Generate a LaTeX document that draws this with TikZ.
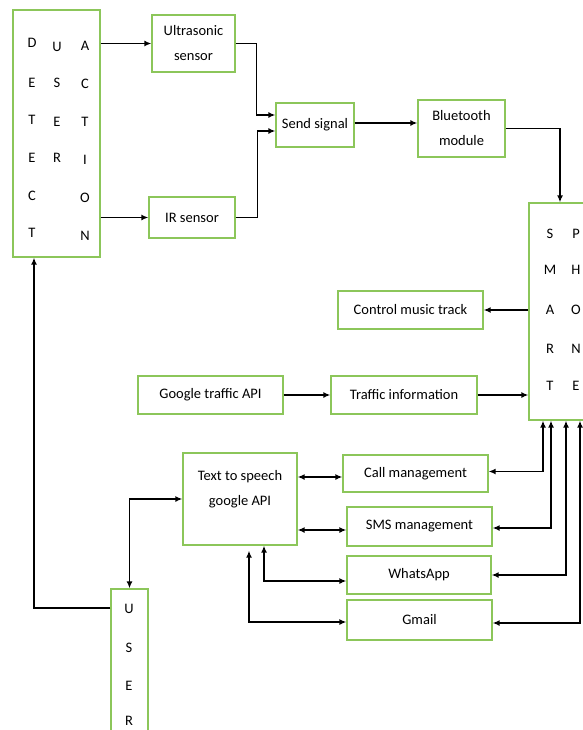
\documentclass[tikz,border=0pt]{standalone}
\usepackage{fontspec}
\setmainfont{Carlito}
\usetikzlibrary{arrows.meta,calc}
\definecolor{boxgreen}{RGB}{140,198,90}
\tikzset{
  box/.style={draw=boxgreen, line width=1.3pt, inner sep=0pt, align=center, font=\fontsize{14.5}{25}\selectfont},
  lbl/.style={inner sep=0pt, font=\fontsize{14.5}{17}\selectfont},
  arr/.style={line width=1.4pt, -{Latex[length=7pt,width=6pt]}},
  darr/.style={line width=1.4pt, {Latex[length=7pt,width=6pt]}-{Latex[length=7pt,width=6pt]}},
}
\begin{document}
\begin{tikzpicture}[x=1pt,y=-1pt]
\useasboundingbox (0,0) rectangle (582,730);
% boxes
\node[box, minimum width=87pt, minimum height=247pt] (detect) at (56.5,133.5) {};
\node[box, minimum width=83pt, minimum height=57pt] (ultra) at (193.5,43.5) {Ultrasonic\\sensor};
\node[box, minimum width=86pt, minimum height=41pt] (ir) at (192,217.5) {IR sensor};
\node[box, minimum width=78pt, minimum height=44pt] (send) at (315,125) {Send signal};
\node[box, minimum width=87pt, minimum height=57pt] (bt) at (461.5,128.5) {Bluetooth\\module};
\node[box, minimum width=71pt, minimum height=217pt] (phone) at (564.5,311.5) {};
\node[box, minimum width=145pt, minimum height=38pt] (music) at (410.5,310) {Control music track};
\node[box, minimum width=145pt, minimum height=38pt] (gapi) at (210.5,395) {Google traffic API};
\node[box, minimum width=146pt, minimum height=38pt] (tinfo) at (404,395) {Traffic information};
\node[box, minimum width=114pt, minimum height=92pt] (tts) at (240,499) {};
\node[box, anchor=north, draw=none] (ttstext) at (240,470) {Text to speech\\google API};
\node[box, minimum width=145pt, minimum height=37pt] (call) at (415.5,473.5) {Call management};
\node[box, minimum width=145pt, minimum height=39pt] (sms) at (419.5,526.5) {SMS management};
\node[box, minimum width=144pt, minimum height=38pt] (wa) at (419,575) {WhatsApp};
\node[box, minimum width=145pt, minimum height=40pt] (gmail) at (419.5,620) {Gmail};
\node[box, minimum width=37pt, minimum height=171pt] (user) at (129.5,674.5) {};
% letters
\foreach \t/\y [count=\i] in {D/43,E/83,T/120,E/158,C/196,T/233}
  \node[lbl] (dc\i) at (32,\y) {\t};
\foreach \t/\y [count=\i] in {U/47,S/83,E/122,R/158}
  \node[lbl] (du\i) at (57,\y) {\t};
\foreach \t/\y [count=\i] in {A/46,C/84,T/122,I/160,O/198,N/236}
  \node[lbl] (da\i) at (85,\y) {\t};
\foreach \t/\y [count=\i] in {S/234,M/270,A/310,R/349,T/386}
  \node[lbl] (ps\i) at (550,\y) {\t};
\foreach \t/\y [count=\i] in {P/234,H/270,O/310,N/349,E/386}
  \node[lbl] (pp\i) at (576,\y) {\t};
\foreach \t/\y [count=\i] in {U/609,S/648,E/686,R/721}
  \node[lbl] (us\i) at (129,\y) {\t};
% connectors
\draw[arr] (detect.east |- ultra.west) -- (ultra.west);
\draw[arr] (detect.east |- ir.west) -- (ir.west);
\draw[arr] (ultra.east) -- ++(21,0) |- ([yshift=10pt]send.west);
\draw[arr] (ir.east) -- ++(22,0) |- ([yshift=-6pt]send.west);
\draw[arr] ([yshift=2pt]send.east) -- ([yshift=2pt]send.east -| bt.west);
\draw[arr] (bt.east) -| ([xshift=-4.5pt]phone.north);
\draw[arr] (phone.west |- music.east) -- (music.east);
\draw[arr] (gapi.east) -- (tinfo.west);
\draw[arr] (tinfo.east) -- (phone.west |- tinfo.east);
\draw[darr] ([yshift=22pt]tts.east) -- ([yshift=22pt]tts.east -| call.west);
\draw[darr] ([yshift=-31pt]tts.east) -- ([yshift=-31pt]tts.east -| sms.west);
\draw[darr] ([xshift=24pt]tts.south) |- ([yshift=-6pt]wa.west);
\draw[darr] ([xshift=9pt,yshift=-5pt]tts.south) |- ([yshift=-2pt]gmail.west);
\draw[darr] (tts.west) -| (user.north);
\draw[arr] (user.west |- 0,608) -| ([xshift=-22.5pt]detect.south);
\draw[darr] ([xshift=-21.5pt]phone.south) |- ([yshift=2pt]call.east);
\draw[darr] ([xshift=-13.5pt]phone.south) |- ([yshift=-1.5pt]sms.east);
\draw[darr] ([xshift=1.5pt]phone.south) |- (wa.east);
\draw[darr] ([xshift=15.5pt]phone.south) |- ([yshift=-3pt]gmail.east);
\end{tikzpicture}
\end{document}
